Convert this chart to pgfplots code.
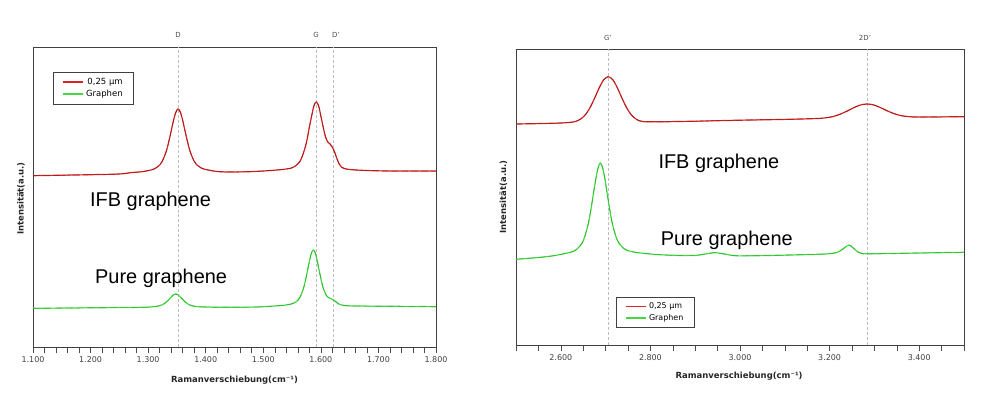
\documentclass[border=0pt]{standalone}
\usepackage{pgfplots}
\pgfplotsset{compat=1.18}
\usepackage{pgfplotstable}
\usepackage{fontspec}
\setmainfont{DejaVu Sans}
\newfontfamily\arialf{Liberation Sans}
\definecolor{cred}{RGB}{215,35,35}
\definecolor{cdred}{RGB}{150,30,30}
\definecolor{cgreen}{RGB}{70,215,70}
\definecolor{cdgreen}{RGB}{45,175,45}
\definecolor{cgrid}{RGB}{190,190,190}

\pgfplotstableread{
x y
1100 171.3
1150 171.8
1200 172.3
1250 173.0
1272 174.5
1288 175.2
1304 176.9
1312 178.5
1320 182.0
1324 185.2
1328 190.3
1332 196.7
1336 205.8
1340 216.0
1344 226.3
1348 234.6
1352 238.0
1356 234.8
1360 226.6
1364 216.3
1368 206.2
1372 197.2
1376 190.8
1380 185.7
1384 182.5
1392 179.1
1400 177.5
1416 175.8
1432 175.1
1470 175.2
1500 176.0
1528 177.2
1540 178.0
1548 178.8
1552 179.8
1556 181.0
1560 183.1
1564 185.9
1568 191.1
1572 198.1
1576 207.3
1580 219.8
1584 231.0
1588 241.3
1592 245.0
1596 241.3
1600 231.0
1604 220.0
1608 210.3
1612 205.0
1616 202.9
1620 199.7
1624 194.8
1628 188.2
1632 182.8
1636 179.8
1644 178.0
1656 177.2
1680 176.5
1720 176.0
1800 176.0
}\leftred

\pgfplotstableread{
x y
1100 38.7
1200 39.2
1290 39.7
1306 40.2
1313 40.5
1320 41.3
1323.5 42.0
1327 43.0
1330.5 44.4
1334 46.3
1337.5 48.4
1341 50.6
1344.5 52.3
1348 53.0
1351.5 52.3
1355 50.6
1358.5 48.4
1362 46.3
1365.5 44.4
1369 43.0
1372.5 42.0
1376 41.3
1383 40.5
1390 40.2
1420 39.8
1480 39.9
1500 40.3
1522 41.1
1535 41.7
1548 42.9
1554.5 44.3
1561 47.4
1564.25 50.3
1567.5 54.8
1570.75 60.5
1574 68.5
1577.25 77.6
1580.5 86.7
1583.75 94.2
1587 97.0
1590.25 94.2
1593.5 86.7
1596.75 77.6
1600 68.5
1603.25 60.5
1606.5 55.3
1609.75 51.4
1613 49.5
1619.5 47.8
1626 45.3
1632 42.7
1639 41.7
1652 41.1
1700 40.8
1750 40.6
1800 40.3
}\leftgreen

\pgfplotstableread{
x y
2500 221.0
2550 221.4
2600 222.0
2626 222.9
2636 224.1
2646 226.5
2656 230.9
2666 238.0
2676 247.4
2686 257.4
2696 265.3
2706 268.3
2716 265.3
2726 257.4
2736 247.4
2746 238.0
2756 230.9
2766 226.5
2776 224.1
2786 223.3
2820 223.2
2900 223.8
3000 224.8
3100 225.6
3173 226.5
3193 227.3
3208 228.5
3223 230.7
3238 233.7
3253 237.1
3268 239.9
3283 241.0
3298 240.1
3313 237.5
3328 234.3
3343 231.5
3358 229.5
3373 228.5
3393 228.0
3450 228.1
3500 228.3
}\rightred

\pgfplotstableread{
x y
2500 85.7
2550 87.5
2583 89.2
2604 91.0
2625 93.2
2635.5 95.7
2646 100.8
2651.25 105.5
2656.5 113.0
2661.75 122.1
2667 135.0
2672.25 149.7
2677.5 164.4
2682.75 176.4
2688 182.0
2693.25 177.5
2698.5 165.8
2703.75 150.9
2709 136.0
2714.25 123.0
2719.5 113.7
2724.75 106.2
2730 101.6
2740.5 96.6
2751 94.2
2772 92.3
2793 91.3
2820 90.3
2860 89.6
2900 89.6
2920 90.8
2944 92.3
2968 90.8
2992 89.2
3050 89.4
3112 90.0
3180 90.8
3205 91.6
3215 92.3
3225 94.5
3232 96.8
3238 98.9
3243 100.0
3248 98.9
3254 96.5
3262 93.3
3272 91.6
3290 91.2
3400 92.0
3500 92.7
}\rightgreen

\pgfplotsset{
  ramanstyle/.style={
    scale only axis,
    anchor=south west,
    ytick=\empty,
    xtick pos=bottom,
    tick align=outside,
    major tick length=6bp,
    minor tick length=6bp,
    tick style={black!70, line width=0.6pt},
    axis line style={black!75, line width=0.9pt},
    ticklabel style={font=\fontsize{8}{9}\selectfont, text=black!75},
    xlabel={Ramanverschiebung(cm⁻¹)},
    ylabel={Intensität(a.u.)},
    xlabel style={anchor=center, font=\bfseries\fontsize{8.5}{10}\selectfont, text=black!85},
    ylabel style={anchor=center, font=\bfseries\fontsize{8.5}{10}\selectfont, text=black!85},
    legend cell align=left,
    legend style={draw=black!75, line width=0.6pt, inner xsep=9bp, inner ysep=4bp,
      font=\fontsize{8.5}{11.5}\selectfont, row sep=0pt,
      /tikz/every even column/.append style={column sep=9bp}},
    legend image code/.code={\draw[##1, solid, line width=1.8pt] (0bp,0bp) -- (20bp,0bp);},
  },
  redline/.style={cred, line width=1.2pt, smooth, tension=0.5},
  redover/.style={cdred, line width=0.5pt, smooth, tension=0.5, dash pattern=on 7pt off 3pt, forget plot},
  greenline/.style={cgreen, line width=1.2pt, smooth, tension=0.5},
  greenover/.style={cdgreen, line width=0.45pt, smooth, tension=0.5, dash pattern=on 7pt off 4pt, forget plot},
  vline/.style={cgrid, line width=0.6pt, dash pattern=on 3pt off 2pt, forget plot},
}

\begin{document}
\begin{tikzpicture}[x=1bp,y=1bp]
\path (0,0) rectangle (987,399);

\begin{axis}[ramanstyle,
  at={(33bp,52bp)}, width=403bp, height=300bp,
  xmin=1100, xmax=1800, ymin=0, ymax=300,
  xtick={1100,1200,1300,1400,1500,1600,1700,1800},
  xticklabels={1.100,1.200,1.300,1.400,1.500,1.600,1.700,1.800},
  minor xtick={1100,1120,...,1800},
  xlabel style={at={(axis description cs:0.5,-0.11)}},
  ylabel style={at={(axis description cs:-0.03,0.495)}},
  legend style={at={(axis description cs:0.0496,0.9167)}, anchor=north west},
]
\addplot[vline] coordinates {(1352,0) (1352,300)};
\addplot[vline] coordinates {(1592,0) (1592,300)};
\addplot[vline] coordinates {(1621,0) (1621,300)};
\addplot[redline] table {\leftred};
\addlegendentry{\,0,25 µm}
\addplot[greenline] table {\leftgreen};
\addlegendentry{Graphen}
\addplot[redover] table {\leftred};
\addplot[greenover] table {\leftgreen};
\end{axis}

\begin{axis}[ramanstyle,
  at={(516bp,54bp)}, width=448bp, height=296bp,
  xmin=2500, xmax=3500, ymin=0, ymax=296,
  xtick={2600,2800,3000,3200,3400},
  xticklabels={2.600,2.800,3.000,3.200,3.400},
  minor xtick={2500,2550,...,3500},
  xlabel style={at={(axis description cs:0.498,-0.107)}},
  ylabel style={at={(axis description cs:-0.028,0.5)}},
  legend style={at={(axis description cs:0.223,0.162)}, anchor=north west, inner ysep=3.5bp,
    font=\fontsize{8}{10.5}\selectfont},
]
\addplot[vline] coordinates {(2705,0) (2705,296)};
\addplot[vline] coordinates {(3283,0) (3283,296)};
\addplot[redline] table {\rightred};
\addlegendentry{0,25 µm}
\addplot[greenline] table {\rightgreen};
\addlegendentry{Graphen}
\addplot[redover] table {\rightred};
\addplot[greenover] table {\rightgreen};
\end{axis}

% peak labels above the axes
\begin{scope}[every node/.style={font=\fontsize{7}{8}\selectfont, text=black!70, inner sep=0pt}]
\node at (178,364) {D};
\node at (316,364) {G};
\node at (336,364) {D'};
\node at (608,361) {G'};
\node at (865,361) {2D'};
\end{scope}

% sample annotations
\begin{scope}[every node/.style={font=\arialf\fontsize{20}{24}\selectfont, anchor=base west, inner sep=0pt}]
\node at (90,193) {IFB graphene};
\node at (95,115.7) {Pure graphene};
\node at (658.3,230.7) {IFB graphene};
\node at (660.7,154) {Pure graphene};
\end{scope}
\end{tikzpicture}
\end{document}
